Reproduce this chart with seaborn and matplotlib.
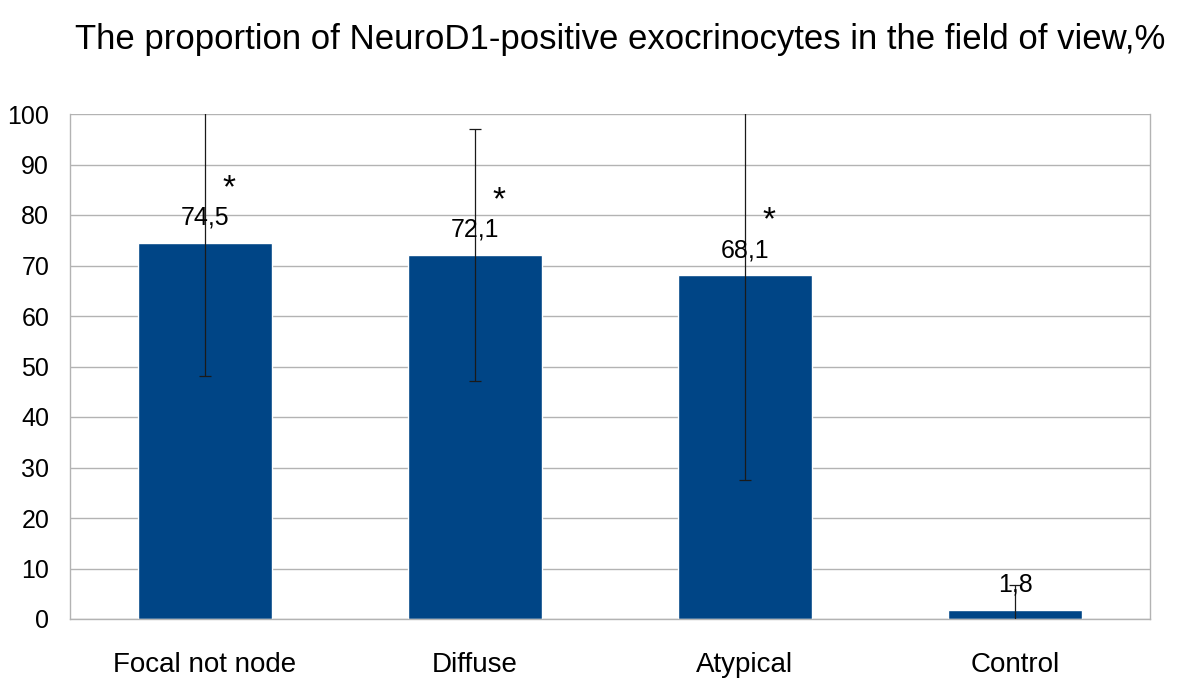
import matplotlib
matplotlib.use("Agg")
import matplotlib.pyplot as plt
import seaborn as sns
import pandas as pd
import numpy as np

categories = ["Focal not node", "Diffuse", "Atypical", "Control"]
values = [74.5, 72.1, 68.1, 1.8]
errors = [26.3, 25.0, 40.6, 5.0]
value_labels = ["74,5", "72,1", "68,1", "1,8"]
stars = ["*", "*", "*", ""]
yticks = list(range(0, 101, 10))
title = "The proportion of NeuroD1-positive exocrinocytes in the field of view,%"

sns.set_theme(style="white")
plt.rcParams["font.family"] = ["Liberation Sans", "DejaVu Sans"]

df = pd.DataFrame({"cat": categories, "val": values})

W, H = 1181, 681
fig = plt.figure(figsize=(W / 100, H / 100), dpi=100)
ax = fig.add_axes([70 / W, (H - 619) / H, (1150 - 70) / W, (619 - 114) / H])

sns.barplot(data=df, x="cat", y="val", color="#004586", saturation=1,
            width=0.495, ax=ax, errorbar=None, zorder=2)
x = np.arange(len(categories))
ax.errorbar(x, values, yerr=errors, fmt="none", ecolor="#1a1a1a",
            elinewidth=0.9, capsize=4.5, capthick=0.9, zorder=3, clip_on=True)

ax.set_ylim(0, 100)
ax.set_xlim(-0.5, len(categories) - 0.5)
ax.set_yticks(yticks)
ax.set_yticklabels([str(t) for t in yticks], fontsize=18)
ax.set_xlabel("")
ax.set_ylabel("")
ax.set_xticks(x)
ax.set_xticklabels(categories, fontsize=20)
ax.set_xticks(np.arange(-0.5, len(categories), 1.0), minor=True)
ax.tick_params(axis="x", which="major", length=0, pad=24, colors="black")
ax.tick_params(axis="x", which="minor", length=14, width=1, color="#b3b3b3")
ax.tick_params(axis="y", which="major", length=10, width=1, color="#b3b3b3",
               pad=5, colors="black")
ax.tick_params(axis="y", color="#b3b3b3")
ax.yaxis.grid(True, color="#b3b3b3", linewidth=1)
ax.set_axisbelow(True)
for side in ["left", "bottom", "right"]:
    ax.spines[side].set_visible(True)
    ax.spines[side].set_color("#b3b3b3")
    ax.spines[side].set_linewidth(1)
ax.spines["top"].set_visible(False)

for xi, v, lab, st in zip(x, values, value_labels, stars):
    ax.annotate(lab, (xi, v), xytext=(0, 25), textcoords="offset pixels",
                ha="center", va="center", fontsize=18, color="black", zorder=4)
    if st:
        ax.annotate(st, (xi, v), xytext=(24, 54), textcoords="offset pixels",
                    ha="center", va="center", fontsize=24, color="black", zorder=4)

fig.text(620 / W, 1 - 40 / H, title, ha="center", va="center", fontsize=25,
         color="black")

fig.savefig("out.png", dpi=100)
